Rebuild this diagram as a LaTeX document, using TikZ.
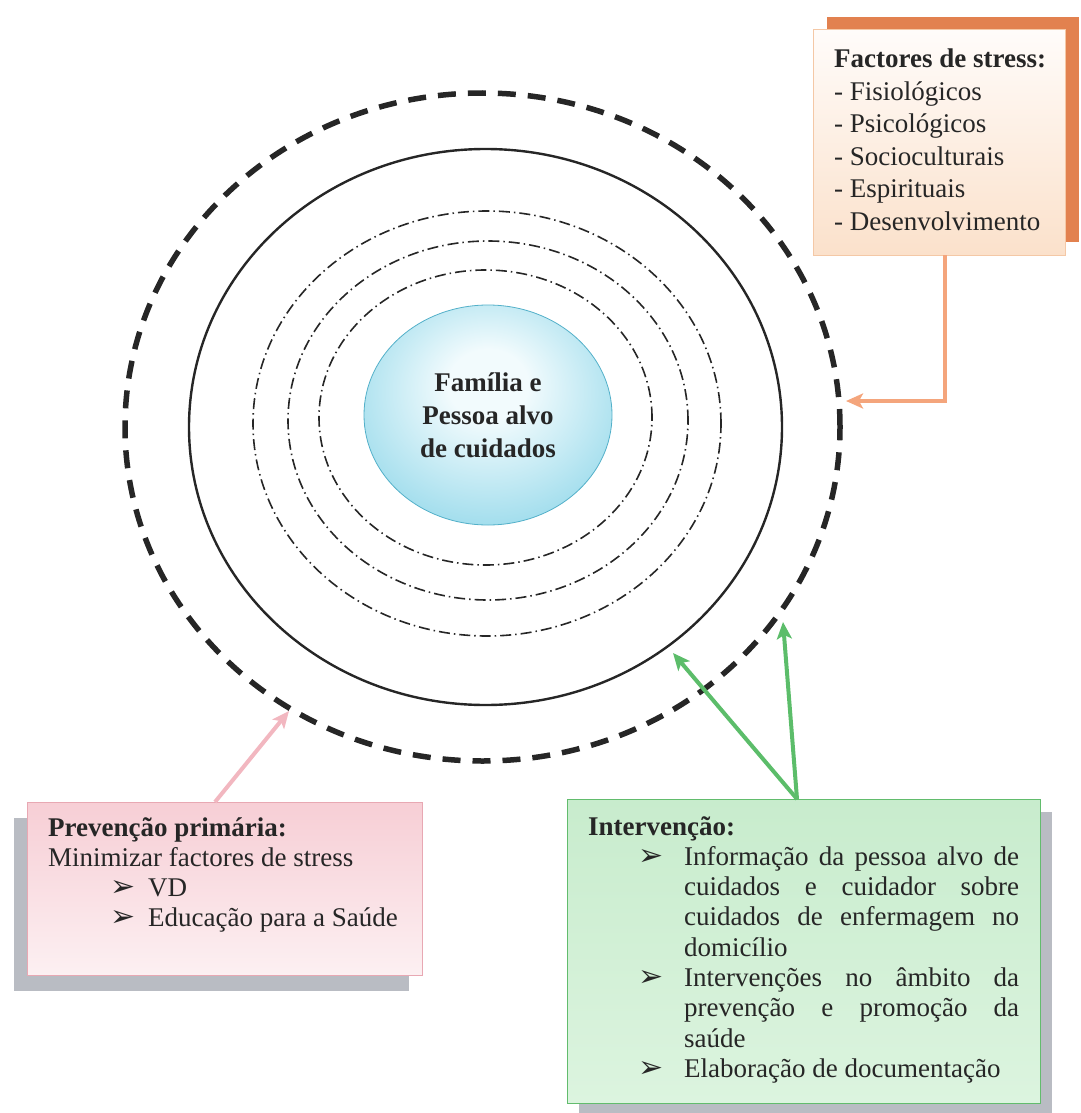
\documentclass[tikz,border=0pt]{standalone}
\usepackage{fontspec}
\setmainfont{Liberation Serif}
\newfontfamily\dingfont{DejaVu Sans}
\usetikzlibrary{shapes.geometric,arrows.meta,shadows}

\definecolor{ink}{HTML}{262626}
\definecolor{stressdark}{HTML}{E2814F}
\definecolor{stresstop}{HTML}{FFFCFA}
\definecolor{stressbot}{HTML}{FBE1CB}
\definecolor{stressedge}{HTML}{F4C8A6}
\definecolor{stressline}{HTML}{F4A57C}
\definecolor{primtop}{HTML}{F7CED5}
\definecolor{primbot}{HTML}{FCF0F2}
\definecolor{primedge}{HTML}{E8A8B3}
\definecolor{primline}{HTML}{F2B7C0}
\definecolor{acttop}{HTML}{C8ECCD}
\definecolor{actbot}{HTML}{DCF4DF}
\definecolor{actedge}{HTML}{62BC6D}
\definecolor{actline}{HTML}{5CBD6A}
\definecolor{backgray}{HTML}{B9BCC3}
\definecolor{coreout}{HTML}{5CC4DF}
\definecolor{corein}{HTML}{F2FBFD}

\pgfdeclareradialshading{coreshade}{\pgfpoint{0bp}{8bp}}{color(0bp)=(corein); color(8bp)=(corein); color(26bp)=(coreout!45!corein); color(40bp)=(coreout!80!corein); color(50bp)=(coreout); color(60bp)=(coreout)}

\newcommand{\pointer}{{\dingfont\fontsize{30}{30}\selectfont ➢}}
\newcommand{\jline}[1]{\makebox[335pt][s]{#1}}

\begin{document}
\begin{tikzpicture}[x=1pt, y=-1pt,
    ring/.style={ellipse, draw=ink, inner sep=0pt, outer sep=0pt},
    dotring/.style={ring, line width=1.6pt, dash pattern=on 11pt off 4pt on 1.5pt off 4pt},
    box/.style={rectangle, anchor=north west, inner sep=0pt, outer sep=0pt, line width=1pt},
    boxtext/.style={anchor=base west, inner sep=0pt, align=left, text=ink, font=\fontsize{27}{30.3}\selectfont,
        execute at begin node={\spaceskip=0pt\xspaceskip=0pt}},
    link/.style={line width=4pt, -{Stealth[length=17pt, width=15pt, inset=4pt]}}]
    \useasboundingbox (0,0) rectangle (1080,1113);

    \node[ring, line width=5.5pt, dash pattern=on 18pt off 12pt, minimum width=715pt, minimum height=668pt] (outer) at (482.5,427) {};
    \node[ring, line width=2.4pt, minimum width=593pt, minimum height=556pt] (line) at (485.5,427) {};
    \node[dotring, minimum width=468pt, minimum height=425pt] (dotA) at (487,423.5) {};
    \node[dotring, minimum width=400pt, minimum height=359pt] (dotB) at (488,420.5) {};
    \node[dotring, minimum width=333pt, minimum height=295pt] (dotC) at (485.5,417.5) {};

    \node[ellipse, draw=coreout!90!black, line width=0.8pt, shading=coreshade, minimum width=248pt, minimum height=220pt, align=center, text=ink, font=\bfseries\fontsize{27}{33}\selectfont,
        execute at begin node={\spaceskip=0pt\xspaceskip=0pt}] (core) at (488,415) {Família e\\Pessoa alvo\\de cuidados};

    \node[box, draw=stressedge, top color=stresstop, bottom color=stressbot, drop shadow={shadow xshift=14pt, shadow yshift=13pt, fill=stressdark, opacity=1}, minimum width=252pt, minimum height=225pt] (stress) at (813,30) {};
    \node[boxtext, text width=230pt, font=\fontsize{27}{32.5}\selectfont] (stresstext) at ([shift={(21,38)}]stress.north west) {\textbf{Factores de stress:}\\- Fisiológicos\\- Psicológicos\\- Socioculturais\\- Espirituais\\- Desenvolvimento};

    \node[box, draw=primedge, top color=primtop, bottom color=primbot, drop shadow={shadow xshift=-13pt, shadow yshift=-16pt, fill=backgray, opacity=1}, minimum width=395pt, minimum height=173pt] (prev) at (27,802) {};
    \node[boxtext, text width=370pt] (prevtext) at ([shift={(21,34)}]prev.north west) {\textbf{Prevenção primária:}\\Minimizar factores de stress\\
        \hspace*{62pt}\makebox[38pt][l]{\pointer}VD\\
        \hspace*{62pt}\makebox[38pt][l]{\pointer}Educação para a Saúde};

    \node[box, draw=actedge, top color=acttop, bottom color=actbot, drop shadow={shadow xshift=12pt, shadow yshift=-13pt, fill=backgray, opacity=1}, minimum width=473pt, minimum height=304pt] (act) at (567,799) {};
    \node[boxtext, text width=445pt] (acttext) at ([shift={(21,36)}]act.north west) {\textbf{Intervenção:}\\
        \hspace*{50pt}\makebox[46pt][l]{\pointer}\jline{Informação da pessoa alvo de}\\
        \hspace*{96pt}\jline{cuidados e cuidador sobre}\\
        \hspace*{96pt}\jline{cuidados de enfermagem no}\\
        \hspace*{96pt}domicílio\\
        \hspace*{50pt}\makebox[46pt][l]{\pointer}\jline{Intervenções no âmbito da}\\
        \hspace*{96pt}\jline{prevenção e promoção da}\\
        \hspace*{96pt}saúde\\
        \hspace*{50pt}\makebox[46pt][l]{\pointer}Elaboração de documentação};

    \coordinate (stresstip) at (846,401);
    \coordinate (primtip) at (289,711);
    \coordinate (linetip) at (673,653);
    \coordinate (outertip) at (783,622);

    \draw[link, stressline] ([xshift=6pt]stress.south) |- (stresstip);
    \draw[link, primline] ([xshift=188pt]prev.north west) -- (primtip);
    \draw[link, actline] ([xshift=230pt]act.north west) -- (linetip);
    \draw[link, actline] ([xshift=230pt]act.north west) -- (outertip);
\end{tikzpicture}
\end{document}
